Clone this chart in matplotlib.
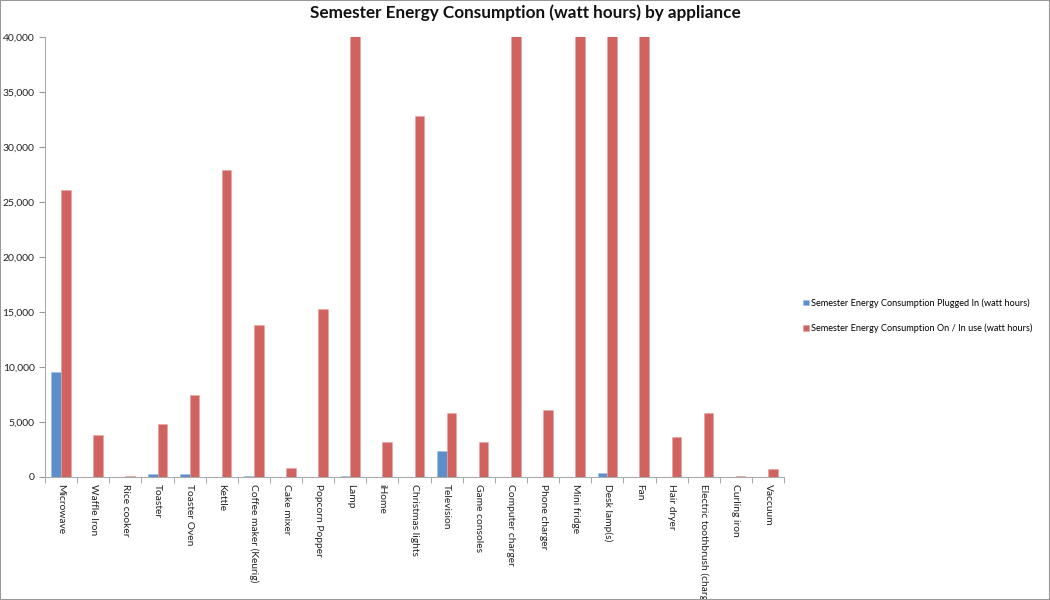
import matplotlib.pyplot as plt
import numpy as np
from matplotlib.ticker import FuncFormatter
from matplotlib.patches import Rectangle

plt.rcParams["font.family"] = ["Lato", "DejaVu Sans"]

appliances = ["Microwave", "Waffle Iron", "Rice cooker", "Toaster", "Toaster Oven",
              "Kettle", "Coffee maker (Keurig)", "Cake mixer", "Popcorn Popper", "Lamp",
              "iHome", "Christmas lights", "Television", "Game consoles",
              "Computer charger", "Phone charger", "Mini fridge", "Desk lamp(s)", "Fan",
              "Hair dryer", "Electric toothbrush (charger)", "Curling iron", "Vaccuum"]

# plugged in (standby) and on / in use, watt hours per semester
plugged_in = [9550, 0, 0, 300, 300, 0, 100, 0, 0, 100, 0, 0, 2400, 0, 0, 0, 0, 350,
              0, 0, 0, 0, 0]
in_use = [26050, 3850, 80, 4800, 7450, 27950, 13850, 850, 15300, 60000, 3200, 32850,
          5850, 3150, 60000, 6100, 60000, 60000, 60000, 3600, 5850, 100, 700]

legend_labels = ["Semester Energy Consumption Plugged In (watt hours)",
                 "Semester Energy Consumption On / In use (watt hours)"]

blue = "#5B8FCC"
red = "#D0635F"

fig = plt.figure(figsize=(10.5, 6), dpi=100)
ax = fig.add_axes([0.0429, 0.205, 0.7038, 0.7333])

x = np.arange(len(appliances))
w = 0.3
b1 = ax.bar(x - w / 2, plugged_in, w, color=blue, edgecolor="#9EBFE6", linewidth=0.4)
b2 = ax.bar(x + w / 2, in_use, w, color=red, edgecolor="#E8A5A2", linewidth=0.4)

ax.set_xlim(-0.5, len(appliances) - 0.5)
ax.set_ylim(0, 40000)
ax.set_yticks(np.arange(0, 40001, 5000))
ax.yaxis.set_major_formatter(FuncFormatter(lambda v, p: f"{int(v):,}"))

ax.set_xticks(x)
ax.set_xticklabels(appliances, rotation=270, ha="center", va="top")
ax.set_xticks(np.arange(-0.5, len(appliances), 1), minor=True)
ax.tick_params(axis="x", which="major", length=0, pad=5, labelsize=7.4, colors="#222222")
ax.tick_params(axis="x", which="minor", length=4, color="#999999")
ax.tick_params(axis="y", length=4, color="#999999", labelsize=7.5, labelcolor="#222222")

for s in ["top", "right"]:
    ax.spines[s].set_visible(False)
ax.spines["left"].set_color("#AAAAAA")
ax.spines["bottom"].set_color("#AAAAAA")

fig.text(0.5, 0.978, "Semester Energy Consumption (watt hours) by appliance",
         ha="center", va="center", fontsize=12.3, fontweight="bold", color="#111111")

fig.legend([b1, b2], legend_labels, loc="center left", bbox_to_anchor=(0.757, 0.474),
           frameon=False, fontsize=6.6, handlelength=0.6, handleheight=0.6,
           handletextpad=0.3, labelspacing=1.7)

fig.add_artist(Rectangle((0, 0), 1, 1, transform=fig.transFigure, fill=False,
                         edgecolor="#999999", linewidth=1.5))

fig.savefig("out.png", dpi=100)
